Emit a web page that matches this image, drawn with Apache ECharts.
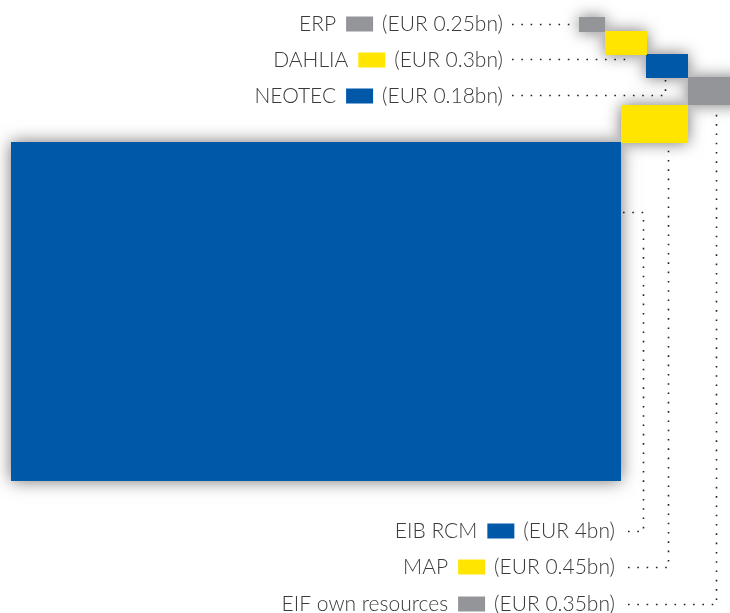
<!DOCTYPE html>
<html><head><meta charset="utf-8">
<script src="https://cdn.jsdelivr.net/npm/echarts@6/dist/echarts.min.js"></script>
<style>html,body{margin:0;padding:0;background:#fff}#c{width:730px;height:613px}</style>
</head><body><div id="c"></div>
<script>
// ---- data ----
const categories = ['EIB RCM', 'MAP', 'EIF own resources', 'NEOTEC', 'DAHLIA', 'ERP'];
const amountsBn = [4, 0.45, 0.35, 0.18, 0.3, 0.25];
const currency = 'EUR';
const unit = 'bn';

// ---- layout (hidden axis units) ----
const blockRects = [[11,142,621,481],[621,105,688,143],[688,77,745,105],[646,54,688,78],[605,31,647,55],[579,17,605,32]];
const palette = ['#0058A8','#FFE500','#939598','#0058A8','#FFE500','#939598'];
const labelAnchors = [[615,531],[615,567],[615,604],[503,96],[503,60],[503,24]];
const leaderPaths = [
  [[628,531.5],[643.5,531.5],[643.5,212.5],[623,212.5]],
  [[628,567.5],[668.5,567.5],[668.5,147]],
  [[628,604.5],[716.5,604.5],[716.5,108]],
  [[512,95.5],[665.5,95.5],[665.5,80]],
  [[512,59.5],[630.5,59.5],[630.5,57]],
  [[512,24.5],[577,24.5]]
];

const FONT = '300 21px Lato';
const TEXT_COLOR = '#3a3a3a';
const mctx = document.createElement('canvas').getContext('2d');
function textW(s){ mctx.font = FONT; return mctx.measureText(s).width; }

const idx = categories.map((c, i) => [i]);
const chart = echarts.init(document.getElementById('c'), null, {renderer: 'canvas'});

function rectShape(api, i){
  const r = blockRects[i];
  const p0 = api.coord([r[0], r[1]]), p1 = api.coord([r[2], r[3]]);
  return {x: Math.min(p0[0],p1[0]), y: Math.min(p0[1],p1[1]), width: Math.abs(p1[0]-p0[0]), height: Math.abs(p1[1]-p0[1])};
}

chart.setOption({
  animation: false,
  backgroundColor: '#fff',
  grid: {left: 0, right: 0, top: 0, bottom: 0},
  xAxis: {type: 'value', min: 0, max: 730, show: false},
  yAxis: {type: 'value', min: 0, max: 613, inverse: true, show: false},
  series: [
    { // leader lines
      type: 'custom', data: idx, silent: true, z: 1,
      renderItem: (params, api) => {
        const pts = leaderPaths[params.dataIndex].map(p => api.coord(p));
        return {type: 'polyline', shape: {points: pts},
          style: {stroke: '#222', lineWidth: 1.6, lineDash: [1.6, 7.7], fill: null}};
      }
    },
    { // shadows
      type: 'custom', data: idx, silent: true, z: 2,
      renderItem: (params, api) => ({type: 'rect', shape: rectShape(api, params.dataIndex),
        style: {fill: palette[params.dataIndex], shadowBlur: 16, shadowColor: 'rgba(0,0,0,0.55)', shadowOffsetX: 0, shadowOffsetY: 0}})
    },
    { // blocks
      type: 'custom', data: idx, silent: true, z: 3,
      renderItem: (params, api) => ({type: 'rect', shape: rectShape(api, params.dataIndex),
        style: {fill: palette[params.dataIndex]}})
    },
    { // labels
      type: 'custom', data: idx, silent: true, z: 4,
      renderItem: (params, api) => {
        const i = params.dataIndex;
        const a = api.coord(labelAnchors[i]);
        const valText = '(' + currency + ' ' + amountsBn[i] + unit + ')';
        const vw = textW(valText);
        const swR = a[0] - vw - 9, swL = swR - 27;
        return {type: 'group', children: [
          {type: 'text', style: {text: valText, x: a[0], y: a[1], align: 'right', verticalAlign: 'middle', font: FONT, fill: TEXT_COLOR}},
          {type: 'rect', shape: {x: swL, y: a[1]-7.5, width: 27, height: 15}, style: {fill: palette[i]}},
          {type: 'text', style: {text: categories[i], x: swL - 10, y: a[1], align: 'right', verticalAlign: 'middle', font: FONT, fill: TEXT_COLOR}}
        ]};
      }
    }
  ]
});
</script></body></html>
